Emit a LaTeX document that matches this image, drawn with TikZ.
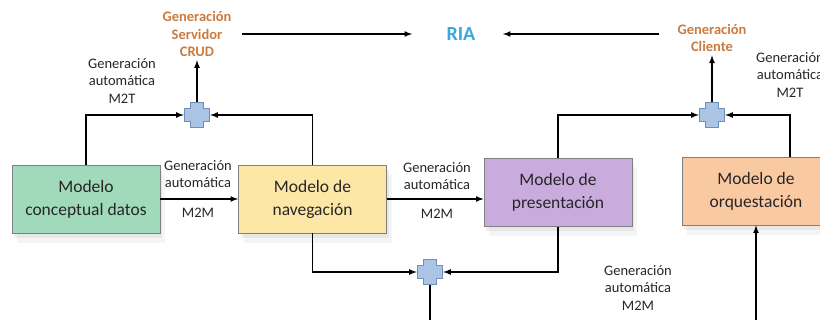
\documentclass[tikz,border=0pt]{standalone}
\usepackage{fontspec}
\setmainfont{Carlito}
\usetikzlibrary{shadows,positioning}

\definecolor{verdeDatos}{RGB}{160,218,186}
\definecolor{amarilloNav}{RGB}{252,231,166}
\definecolor{moradoPres}{RGB}{201,172,221}
\definecolor{naranjaOrq}{RGB}{249,201,162}
\definecolor{naranjaGen}{RGB}{205,122,62}
\definecolor{azulRia}{RGB}{58,168,220}
\definecolor{azulCruz}{RGB}{170,196,229}
\definecolor{bordeCruz}{RGB}{112,142,186}

\tikzset{
  modelo/.style={draw=black!50, line width=0.8pt, minimum width=148, minimum height=68,
    align=center, font=\fontsize{17.5}{23}\selectfont, text=black!85,
    drop shadow={shadow xshift=2pt, shadow yshift=-5pt, opacity=0.12},
    drop shadow={shadow xshift=5pt, shadow yshift=-10pt, opacity=0.08}},
  etiqueta/.style={align=center, font=\fontsize{14.5}{17.5}\selectfont, text=black!85},
  salida/.style={align=center, font=\bfseries\fontsize{14.5}{17.5}\selectfont, text=naranjaGen},
  flujo/.style={line width=1.6pt, ->, >=latex},
  cruz/.style={rectangle, minimum size=26, inner sep=0pt,
    path picture={
      \filldraw[fill=azulCruz, draw=bordeCruz, line width=0.8pt]
        ([shift={(-6.5pt,-12.5pt)}]path picture bounding box.center)
        -- ++(13pt,0) -- ++(0,6pt) -- ++(6pt,0) -- ++(0,13pt) -- ++(-6pt,0)
        -- ++(0,6pt) -- ++(-13pt,0) -- ++(0,-6pt) -- ++(-6pt,0) -- ++(0,-13pt)
        -- ++(6pt,0) -- cycle;
    }},
}

\begin{document}
\begin{tikzpicture}[x=1pt, y=-1pt]
  \useasboundingbox (0,0) rectangle (820,320);
  \clip (0,0) rectangle (820,320);

% Modelos
  \node[modelo, fill=verdeDatos] (datos) at (86,199) {Modelo\\conceptual datos};
  \node[modelo, fill=amarilloNav] (nav) at (312.5,199) {Modelo de\\navegación};
  \node[modelo, fill=moradoPres] (pres) at (558,192.5) {Modelo de\\presentación};
  \node[modelo, fill=naranjaOrq] (orq) at (756,191) {Modelo de\\orquestación};

% Uniones
  \node[cruz] (c1) at (197,115) {};
  \node[cruz] (c2) at (430,272) {};
  \node[cruz] (c3) at (712,115) {};

% Salidas
  \node[salida] (crud) at (197,34) {Generación\\Servidor\\CRUD};
  \node[salida] (cliente) at (712,38) {Generación\\Cliente};
  \node[font=\bfseries\fontsize{20}{22}\selectfont, text=azulRia] (ria) at (461,34) {RIA};

% Etiquetas
  \node[etiqueta] (m2tIzq) at (122,81) {Generación\\automática\\M2T};
  \node[etiqueta] (m2tDer) at (790,75) {Generación\\automática\\M2T};
  \node[etiqueta] (genA) at (198,174) {Generación\\automática};
  \node[etiqueta] (m2mA) at (198,213) {M2M};
  \node[etiqueta] (genB) at (437,176) {Generación\\automática};
  \node[etiqueta] (m2mB) at (437,214) {M2M};
  \node[etiqueta] (m2mC) at (638,288) {Generación\\automática\\M2M};

  \coordinate (c2fin) at (430,330);
  \coordinate (orqIni) at (756,330);
  \coordinate (riaIzq) at ([xshift=7]crud.east |- ria);
  \coordinate (riaDer) at ([xshift=-15]cliente.west |- ria);

% Conexiones
  \draw[flujo] (datos.east) -- (nav.west);
  \draw[flujo] (nav.east) -- (nav.east -| pres.west);
  \draw[flujo] (datos.north) |- (c1.west);
  \draw[flujo] (nav.north) |- (c1.east);
  \draw[flujo] (c1.north) -- (crud.south);
  \draw[flujo] (pres.north) |- (c3.west);
  \draw[flujo] (orq.north -| 790,0) |- (c3.east);
  \draw[flujo] (c3.north) -- (cliente.south);
  \draw[flujo] (nav.south) |- (c2.west);
  \draw[flujo] (pres.south) |- (c2.east);
  \draw[line width=1.6pt] (c2.south) -- (c2fin);
  \draw[flujo] (orqIni) -- (orq.south);
  \draw[flujo, shorten >=31pt] (riaIzq) -- (ria.west);
  \draw[flujo, shorten >=24pt] (riaDer) -- (ria.east);

\end{tikzpicture}
\end{document}
